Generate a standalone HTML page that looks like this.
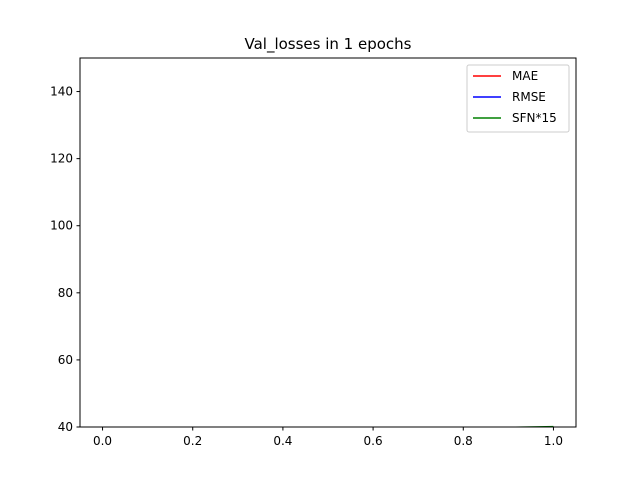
<!DOCTYPE html>
<html><head><meta charset="utf-8"><style>html,body{margin:0;padding:0;background:#fff;overflow:hidden;width:640px;height:480px}svg{display:block;position:absolute;left:0;top:0}svg text{font-family:"DejaVu Sans","Liberation Sans",sans-serif}</style></head>
<body>
<svg id="c" width="640" height="480" xmlns="http://www.w3.org/2000/svg">
<defs><clipPath id="clip"><rect x="80" y="58" width="496" height="369"/></clipPath></defs>
<rect width="640" height="480" fill="#fff"/>
<text x="328" y="49" font-size="15" text-anchor="middle">Val_losses in 1 epochs</text>
<g id="marks" clip-path="url(#clip)"></g>
<rect x="80" y="58" width="496" height="369" fill="none" stroke="#000" stroke-width="1"/>
<g id="ticks"></g>
<g>
<rect x="467" y="65" width="102" height="67" rx="2" fill="#fff" stroke="#ccc"/>
<g><line x1="473" y1="76" x2="501" y2="76" stroke="red" stroke-width="1.5"/><text x="512" y="80" font-size="12">MAE</text></g>
<g><line x1="473" y1="97" x2="501" y2="97" stroke="blue" stroke-width="1.5"/><text x="512" y="101" font-size="12">RMSE</text></g>
<g><line x1="473" y1="118" x2="501" y2="118" stroke="green" stroke-width="1.5"/><text x="512" y="122" font-size="12">SFN*15</text></g>
</g>
</svg>
<script>
const epochs=[0,1];
const mae=[5,3];
const rmse=[7,4];
const sfn=[38,40.1];
const xTicks=[0.0,0.2,0.4,0.6,0.8,1.0];
const yTicks=[40,60,80,100,120,140];
const YMIN=39.7,YMAX=150;
const X=v=>80+(v+0.05)/1.1*496;
const Y=v=>427-(v-40)/110*369;
const NS="http://www.w3.org/2000/svg";
const marks=document.getElementById('marks'),ticks=document.getElementById('ticks');
function clipSegs(vals){const pts=[];
for(let i=0;i<vals.length-1;i++){let x0=epochs[i],y0=vals[i],x1=epochs[i+1],y1=vals[i+1];
if(y0<YMIN&&y1<YMIN)continue;
if(y0<YMIN){x0=x0+(x1-x0)*(YMIN-y0)/(y1-y0);y0=YMIN;}
if(y1<YMIN){x1=x0+(x1-x0)*(YMIN-y0)/(y1-y0);y1=YMIN;}
pts.push([x0,y0],[x1,y1]);}
return pts;}
function line(vals,color,name){const p=document.createElementNS(NS,'polyline');
p.setAttribute('points',clipSegs(vals).map(q=>X(q[0])+','+Y(q[1])).join(' '));
p.setAttribute('fill','none');p.setAttribute('stroke',color);p.setAttribute('stroke-width','1.5');


marks.appendChild(p);}
line(mae,'red','mae-line');line(rmse,'blue','rmse-line');line(sfn,'green','sfn-line');
xTicks.forEach(t=>{const g=document.createElementNS(NS,'g');


g.innerHTML=`<line x1="${X(t)}" y1="427" x2="${X(t)}" y2="430.5" stroke="#000"/><text x="${X(t)}" y="445" font-size="12" text-anchor="middle">${t.toFixed(1)}</text>`;ticks.appendChild(g);});
yTicks.forEach(t=>{const g=document.createElementNS(NS,'g');


g.innerHTML=`<line x1="76.5" y1="${Y(t)}" x2="80" y2="${Y(t)}" stroke="#000"/><text x="73" y="${Y(t)+4}" font-size="12" text-anchor="end">${t}</text>`;ticks.appendChild(g);});
</script>
</body></html>
